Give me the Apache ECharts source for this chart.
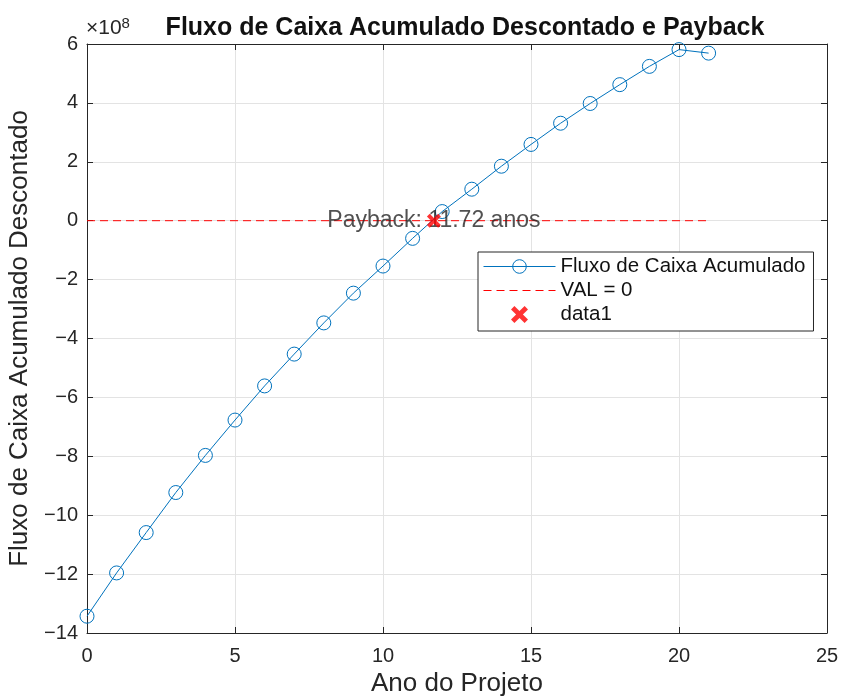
<!DOCTYPE html>
<html>
<head>
<meta charset="utf-8">
<script src="https://cdn.jsdelivr.net/npm/echarts@6/dist/echarts.min.js"></script>
<style>
  html, body { margin: 0; padding: 0; background: #fff; }
  #chart { width: 849px; height: 697px; }
</style>
</head>
<body>
<div id="chart"></div>
<script>
// Project years and discounted cumulative cash flow (units of 1e8)
const years = [0,1,2,3,4,5,6,7,8,9,10,11,12,13,14,15,16,17,18,19,20,21];
const cumulativeFlow = [-13.43,-11.96,-10.59,-9.23,-7.97,-6.77,-5.61,-4.53,-3.47,-2.46,-1.54,-0.60,
                        0.31,1.07,1.85,2.59,3.31,3.98,4.62,5.24,5.81,5.69];
const zeroLineX = [0, 21];
const zeroLineY = [0, 0];
const paybackYear = 11.72;
const paybackValue = 0;
const xTicks = [0, 5, 10, 15, 20, 25];
const yTicks = [-14, -12, -10, -8, -6, -4, -2, 0, 2, 4, 6];

const FONT = 'Liberation Sans';
const blue = '#0072BD';
const red = '#ff0000';
const axisColor = '#262626';

const chart = echarts.init(document.getElementById('chart'));

const crossPath = 'path://M0,2 L2,0 L5,3 L8,0 L10,2 L7,5 L10,8 L8,10 L5,7 L2,10 L0,8 L3,5 Z';
const fmtTick = v => (v < 0 ? '\u2212' + Math.abs(v) : String(v));

const tickStyle = { show: true, inside: true, length: 6, lineStyle: { color: axisColor } };
const lineAxis = { show: true, onZero: false, lineStyle: { color: axisColor, width: 1 } };
const gridLine = { show: true, lineStyle: { color: '#e3e3e3', width: 1 } };

const option = {
  backgroundColor: '#fff',
  animation: false,
  title: {
    text: 'Fluxo de Caixa Acumulado Descontado e Payback',
    left: 460, top: 11, textAlign: 'center',
    textStyle: { fontFamily: FONT, fontSize: 25, fontWeight: 'bold', color: '#111' }
  },
  grid: { left: 87, right: 22, top: 44, bottom: 64, outerBoundsMode: 'none', containLabel: false },
  xAxis: [
    {
      type: 'value', min: xTicks[0], max: xTicks[xTicks.length - 1], interval: 5,
      name: 'Ano do Projeto', nameLocation: 'middle', nameGap: 38,
      nameTextStyle: { fontFamily: FONT, fontSize: 26, color: axisColor },
      axisLine: lineAxis, axisTick: tickStyle,
      axisLabel: { fontFamily: FONT, fontSize: 20, color: axisColor, margin: 13, formatter: fmtTick },
      splitLine: gridLine
    },
    { type: 'value', position: 'top', min: 0, max: 25, interval: 5,
      axisLine: lineAxis, axisTick: tickStyle, axisLabel: { show: false }, splitLine: { show: false } }
  ],
  yAxis: [
    {
      type: 'value', min: yTicks[0], max: yTicks[yTicks.length - 1], interval: 2,
      name: 'Fluxo de Caixa Acumulado Descontado', nameLocation: 'middle', nameGap: 50,
      nameTextStyle: { fontFamily: FONT, fontSize: 26, color: axisColor },
      axisLine: lineAxis, axisTick: tickStyle,
      axisLabel: { fontFamily: FONT, fontSize: 20, color: axisColor, margin: 9, formatter: fmtTick },
      splitLine: gridLine
    },
    { type: 'value', position: 'right', min: -14, max: 6, interval: 2,
      axisLine: lineAxis, axisTick: tickStyle, axisLabel: { show: false }, splitLine: { show: false } }
  ],
  legend: {
    orient: 'vertical', left: 478, top: 252,
    data: ['Fluxo de Caixa Acumulado', 'VAL = 0', 'data1'],
    backgroundColor: '#fff', borderColor: '#262626', borderWidth: 1, borderRadius: 0,
    padding: [4, 8, 6, 5], itemGap: 3, itemWidth: 72, itemHeight: 17,
    lineStyle: { width: 1 },
    itemStyle: { borderWidth: 1 },
    textStyle: { fontFamily: FONT, fontSize: 20.5, color: '#111' }
  },
  graphic: [
    { type: 'text', left: 86, top: 16,
      style: { text: '×10{s|8}', fontFamily: FONT, fontSize: 21, fill: axisColor,
               rich: { s: { fontFamily: FONT, fontSize: 15, verticalAlign: 'top', padding: [0, 0, 10, 0], fill: axisColor } } } }
  ],
  series: [
    {
      name: 'Fluxo de Caixa Acumulado', type: 'line',
      data: years.map((y, i) => [y, cumulativeFlow[i]]),
      symbol: 'circle', symbolSize: 14, showAllSymbol: true,
      lineStyle: { color: blue, width: 1 },
      itemStyle: { color: 'rgba(255,255,255,0)', borderColor: blue, borderWidth: 1 },
      z: 3
    },
    {
      name: 'VAL = 0', type: 'line',
      data: zeroLineX.map((x, i) => [x, zeroLineY[i]]),
      symbol: 'none',
      lineStyle: { color: red, width: 1, type: [8, 5] },
      itemStyle: { color: 'rgba(0,0,0,0)', borderWidth: 0 },
      z: 2
    },
    {
      // text label for the payback year, drawn beneath the marker
      type: 'scatter', data: [[paybackYear, paybackValue]],
      symbolSize: 1, itemStyle: { color: 'rgba(0,0,0,0)' }, silent: true,
      label: { show: true, position: 'inside', formatter: 'Payback: ' + paybackYear.toFixed(2) + ' anos',
               fontFamily: FONT, fontSize: 23, color: '#262626' },
      z: 4
    },
    {
      name: 'data1', type: 'scatter',
      data: [[paybackYear, paybackValue]],
      symbol: crossPath, symbolSize: 14,
      itemStyle: { color: red },
      z: 6, zlevel: 1
    }
  ]
};

chart.setOption(option);
</script>
</body>
</html>
